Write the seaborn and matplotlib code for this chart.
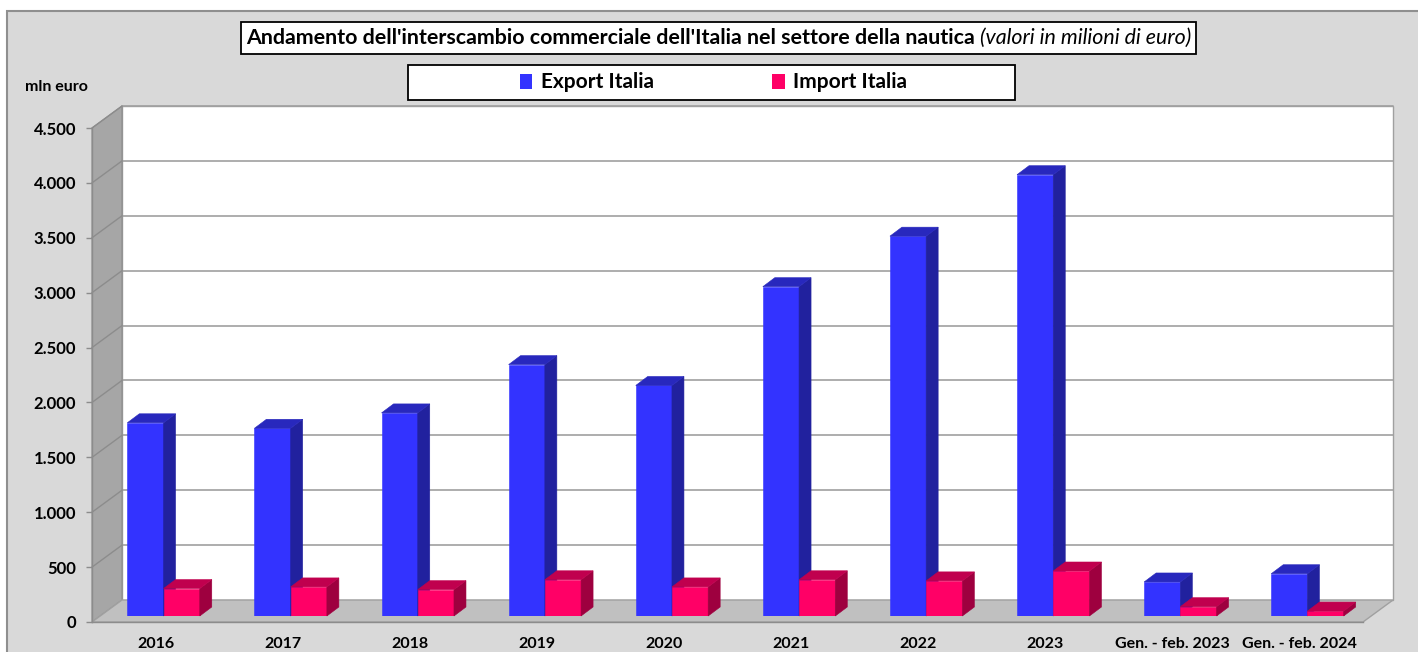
import pandas as pd
import matplotlib
matplotlib.use('Agg')
import matplotlib.pyplot as plt
import seaborn as sns
from matplotlib.patches import Rectangle, Polygon, Patch

# --- DATI (milioni di euro) ---
periodi = ['2016', '2017', '2018', '2019', '2020', '2021', '2022', '2023',
           'Gen. - feb. 2023', 'Gen. - feb. 2024']
export_italia = [1760, 1710, 1850, 2290, 2100, 3000, 3460, 4020, 310, 385]
import_italia = [250, 265, 240, 330, 265, 330, 320, 410, 85, 45]
serie = ['Export Italia', 'Import Italia']
y_ticks = list(range(0, 5000, 500))
y_labels = [f"{v:,}".replace(',', '.') for v in y_ticks]

df = pd.DataFrame({
    'Periodo': periodi * 2,
    'Valore': export_italia + import_italia,
    'Serie': [serie[0]] * len(periodi) + [serie[1]] * len(periodi),
})

# colori: fronte, lato, cima
colori = {'Export Italia': ('#3333ff', '#21219e', '#2828bd'),
          'Import Italia': ('#ff0066', '#9e003f', '#c0004e')}

W, H = 1418, 652
sns.set_style('white')
plt.rcParams['font.family'] = ['Lato', 'DejaVu Sans']
plt.rcParams['text.color'] = 'black'
plt.rcParams['xtick.color'] = 'black'
plt.rcParams['ytick.color'] = 'black'

fig = plt.figure(figsize=(W / 100, H / 100), dpi=100)
fig.patch.set_facecolor('white')
fig.patches.append(Rectangle((7 / W, -0.1), 1.2, 1.1 - 11 / H, transform=fig.transFigure,
                             facecolor='#d9d9d9', edgecolor='#8f8f8f', lw=1.5, zorder=-5))

# piano frontale (assi) e piano delle barre (spostato in profondita')
ax = fig.add_axes([92 / W, 30 / H, 1271 / W, 494 / H])
bax = fig.add_axes([100 / W, 36 / H, 1271 / W, 494 / H])
n = len(periodi)
ymax = 4500
px_x = 1271 / n
px_y = 494 / ymax


def off(dx, dy):
    # pixel -> unita' dati
    return dx / px_x, dy / px_y


for a in (ax, bax):
    a.set_xlim(-0.5, n - 0.5)
    a.set_ylim(0, ymax)
    a.patch.set_visible(False)

# --- PARETI 3D ---
ox, oy = off(30, 22)
x_l, x_r = -0.5, n - 0.5
ax.add_patch(Polygon([(x_l + ox, oy), (x_r + ox, oy), (x_r + ox, ymax + oy), (x_l + ox, ymax + oy)],
                     facecolor='white', edgecolor='#a0a0a0', lw=1, clip_on=False, zorder=0))
ax.add_patch(Polygon([(x_l, 0), (x_l, ymax), (x_l + ox, ymax + oy), (x_l + ox, oy)],
                     facecolor='#a6a6a6', edgecolor='#8c8c8c', lw=0.8, clip_on=False, zorder=1))
ax.add_patch(Polygon([(x_l, 0), (x_r, 0), (x_r + ox, oy), (x_l + ox, oy)],
                     facecolor='#c0c0c0', edgecolor='#a0a0a0', lw=1, clip_on=False, zorder=1))
for v in y_ticks[1:]:
    ax.plot([x_l + ox, x_r + ox], [v + oy, v + oy], color='#a0a0a0', lw=1.2, clip_on=False, zorder=0.5)
    ax.plot([x_l, x_l + ox], [v, v + oy], color='#8c8c8c', lw=1, clip_on=False, zorder=2)

# --- BARRE ---
sns.barplot(data=df, x='Periodo', y='Valore', hue='Serie', palette={s: colori[s][0] for s in serie},
            width=0.57, saturation=1, linewidth=0, legend=False, ax=bax)
bax.set_xlim(-0.5, n - 0.5)
bax.set_ylim(0, ymax)
bax.axis('off')

dx, dy = off(12, 9)
for k, (cont, s) in enumerate(zip(bax.containers, serie)):
    _, lato, cima = colori[s]
    z = 3 + k
    for bar in cont:
        x0 = bar.get_x()
        x1 = x0 + bar.get_width()
        h = bar.get_height()
        bar.set_zorder(z)
        bar.set_edgecolor(bar.get_facecolor())
        bar.set_linewidth(0.4)
        bax.add_patch(Polygon([(x1, 0), (x1 + dx, dy), (x1 + dx, h + dy), (x1, h)],
                              facecolor=lato, edgecolor=lato, lw=0.4, zorder=z, clip_on=False))
        bax.add_patch(Polygon([(x0, h), (x1, h), (x1 + dx, h + dy), (x0 + dx, h + dy)],
                              facecolor=cima, edgecolor=cima, lw=0.4, zorder=z, clip_on=False))

# --- ASSI ---
ax.set_yticks(y_ticks)
ax.set_yticklabels(y_labels, fontsize=12, fontweight='bold')
ax.set_xticks(range(n))
ax.set_xticklabels(periodi, fontsize=11.5, fontweight='bold')
ax.tick_params(axis='y', length=4.5, width=1, color='#8c8c8c', pad=7, left=True)
ax.tick_params(axis='x', length=0, pad=11)
for sp in ('top', 'right'):
    ax.spines[sp].set_visible(False)
for sp in ('left', 'bottom'):
    ax.spines[sp].set_color('#8c8c8c')
    ax.spines[sp].set_linewidth(1)
ax.set_xlabel('')
ax.set_ylabel('')

fig.text(25 / W, 1 - 87 / H, 'mln euro', fontsize=11.5, fontweight='bold', va='center')

# --- TITOLO ---
t1 = fig.text(0, 1 - 44 / H, "Andamento dell'interscambio commerciale dell'Italia nel settore della nautica",
              fontsize=15.4, fontweight='bold', va='baseline')
t2 = fig.text(0, 1 - 44 / H, " (valori in milioni di euro)", fontsize=15.4, style='italic', va='baseline')
fig.canvas.draw()
r = fig.canvas.get_renderer()
w1 = t1.get_window_extent(r).width
w2 = t2.get_window_extent(r).width
left = 718.5 - (w1 + w2) / 2
t1.set_x(left / W)
t2.set_x((left + w1) / W)
fig.patches.append(Rectangle(((left - 5) / W, 1 - 54 / H), (w1 + w2 + 10) / W, 32 / H,
                             transform=fig.transFigure, facecolor='white', edgecolor='black', lw=1.3, zorder=1))

# --- LEGENDA ---
fig.patches.append(Rectangle((408 / W, 1 - 100 / H), 607 / W, 35 / H, transform=fig.transFigure,
                             facecolor='white', edgecolor='black', lw=1.3, zorder=1))
handles = [Patch(facecolor=colori[s][0], edgecolor='none') for s in serie]
fig.legend(handles, serie, loc='center', bbox_to_anchor=((410 + 607 / 2) / W, 1 - 82.5 / H),
           frameon=False, ncol=2, prop={'weight': 'bold', 'size': 15},
           handlelength=0.6, handleheight=0.75, handletextpad=0.4, columnspacing=5.7)

fig.savefig('out.png', dpi=100)
plt.close()
